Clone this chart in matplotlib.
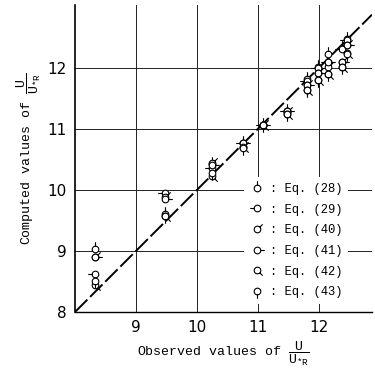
import matplotlib
matplotlib.use("Agg")
import matplotlib.pyplot as plt
import numpy as np
from matplotlib.path import Path

plt.rcParams['mathtext.fontset'] = 'custom'
plt.rcParams['mathtext.rm'] = 'Liberation Mono'
plt.rcParams['mathtext.it'] = 'Liberation Mono'

# observed U/U*R
observed = [8.33, 9.48, 10.25, 10.75, 11.08, 11.48, 11.80, 11.99, 12.15, 12.38, 12.46]

# computed U/U*R for each equation
eq28 = [9.03, 9.60, 10.42, 10.77, 11.07, 11.30, 11.82, 12.02, 12.22, 12.32, 12.47]
eq29 = [8.62, 9.95, 10.36, 10.77, 11.07, 11.30, 11.78, 12.00, 12.10, 12.30, 12.46]
eq40 = [8.90, 9.88, 10.44, 10.70, 11.07, 11.27, 11.72, 11.92, 12.02, 12.10, 12.38]
eq41 = [8.90, 9.85, 10.40, 10.77, 11.07, 11.30, 11.72, 11.92, 12.10, 12.10, 12.38]
eq42 = [8.45, 9.58, 10.22, 10.70, 11.07, 11.25, 11.64, 11.80, 11.90, 12.02, 12.25]
eq43 = [8.50, 9.58, 10.28, 10.69, 11.07, 11.25, 11.64, 11.80, 11.90, 12.02, 12.22]

series = [("(28)", eq28, 90), ("(29)", eq29, 180), ("(40)", eq40, 45),
          ("(41)", eq41, 0), ("(42)", eq42, -45), ("(43)", eq43, -90)]

STICK = 2.2


def stick_marker(angle):
    """circle with a short stick pointing at angle (degrees)"""
    a = np.deg2rad(angle)
    c, s = np.cos(a), np.sin(a)
    # the two leading MOVETOs only fix the extent so all markers scale alike
    stick = Path([(STICK, STICK), (-STICK, -STICK), (c, s), (STICK * c, STICK * s)],
                 [Path.MOVETO, Path.MOVETO, Path.MOVETO, Path.LINETO])
    return Path.make_compound_path(Path.unit_circle(), stick)


fig = plt.figure(figsize=(3.75, 3.75), dpi=100)
ax = fig.add_axes([0.2, 0.168, 0.792, 0.819])

ax.set_xlim(8, 12.87)
ax.set_ylim(8, 13.03)

for v in [9, 10, 11, 12]:
    ax.axvline(v, color="#222222", lw=0.7, zorder=1)
    ax.axhline(v, color="#222222", lw=0.7, zorder=1)

ax.plot([8, 12.87], [8, 12.87], color="black", lw=1.4, dashes=(9, 2), zorder=2)

for name, vals, ang in series:
    ax.plot(observed, vals, linestyle="none", marker=stick_marker(ang),
            markersize=10.5, markerfacecolor="white", markeredgecolor="black",
            markeredgewidth=0.8, label=": Eq. " + name, zorder=3)

leg = ax.legend(loc="lower left", bbox_to_anchor=(0.55, 0.005, 0.45, 0.44),
                frameon=True, framealpha=1, edgecolor="none", facecolor="white",
                prop={"family": "Liberation Mono", "size": 8.7}, handlelength=1.1,
                handletextpad=0.5, labelspacing=0.72, borderpad=0.5)
leg.set_zorder(5)

ax.spines["top"].set_visible(False)
ax.spines["right"].set_visible(False)
ax.spines["left"].set_linewidth(1.2)
ax.spines["bottom"].set_linewidth(1.0)

ax.set_xticks([9, 10, 11, 12])
ax.set_yticks([8, 9, 10, 11, 12])
ax.tick_params(axis="both", length=0, labelsize=11, pad=6)

ax.set_xlabel(r"Observed values of $\dfrac{U}{U_{*R}}$", family="Liberation Mono",
              fontsize=9.5, labelpad=3)
ax.set_ylabel(r"Computed values of $\dfrac{U}{U_{*R}}$", family="Liberation Mono",
              fontsize=9.5, labelpad=3)

fig.savefig("out.png", dpi=100)
